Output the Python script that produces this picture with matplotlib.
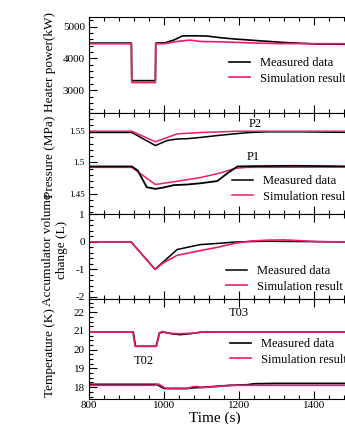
import matplotlib
matplotlib.use("Agg")
import matplotlib.pyplot as plt
from matplotlib.ticker import MultipleLocator, AutoMinorLocator

plt.rcParams["font.family"] = ["Liberation Serif", "DejaVu Serif"]
plt.rcParams["axes.unicode_minus"] = False

# heater power (kW)
t_hp_meas = [800, 913, 914, 977, 978, 1003, 1027, 1049, 1080, 1116, 1150, 1187, 1258, 1320, 1409, 1500]
hp_meas = [4480, 4480, 3300, 3300, 4480, 4490, 4580, 4705, 4710, 4700, 4650, 4610, 4550, 4500, 4450, 4440]
t_hp_sim = [800, 913, 914, 977, 978, 1000, 1040, 1070, 1085, 1100, 1150, 1200, 1250, 1300, 1500]
hp_sim = [4460, 4460, 3240, 3240, 4460, 4460, 4540, 4575, 4550, 4530, 4520, 4500, 4480, 4465, 4460]

# pressure (MPa)
t_p2_meas = [800, 914, 977, 1008, 1035, 1062, 1097, 1142, 1187, 1231, 1276, 1365, 1500]
p2_meas = [1.548, 1.548, 1.527, 1.535, 1.5375, 1.538, 1.540, 1.543, 1.5457, 1.548, 1.549, 1.549, 1.548]
t_p2_sim = [800, 914, 977, 1035, 1100, 1200, 1500]
p2_sim = [1.550, 1.550, 1.533, 1.5457, 1.548, 1.550, 1.550]
t_p1_meas = [800, 914, 930, 954, 977, 999, 1026, 1062, 1097, 1142, 1170, 1196, 1250, 1350, 1500]
p1_meas = [1.4935, 1.4935, 1.487, 1.4602, 1.4575, 1.4597, 1.4635, 1.4645, 1.4665, 1.4700, 1.4830, 1.4935, 1.4940, 1.4945, 1.4935]
t_p1_sim = [800, 914, 977, 1044, 1100, 1150, 1190, 1220, 1500]
p1_sim = [1.492, 1.492, 1.4645, 1.4705, 1.4760, 1.4830, 1.4905, 1.492, 1.4925]

# accumulator volume change (L)
t_v_meas = [800, 912, 976, 1035, 1097, 1142, 1187, 1232, 1276, 1365, 1454, 1500]
v_meas = [0.0, 0.0, -1.0, -0.28, -0.10, -0.06, -0.01, 0.01, 0.02, 0.01, 0.0, -0.01]
t_v_sim = [800, 912, 976, 1000, 1035, 1097, 1142, 1187, 1232, 1276, 1320, 1365, 1409, 1454, 1500]
v_sim = [0.0, 0.0, -1.0, -0.75, -0.49, -0.32, -0.20, -0.06, 0.03, 0.06, 0.07, 0.04, 0.01, 0.0, 0.0]

# temperature (K)
t_t03_meas = [800, 918, 924, 979, 988, 1000, 1020, 1043, 1070, 1097, 1150, 1500]
t03_meas = [20.95, 20.95, 20.18, 20.18, 20.90, 20.93, 20.85, 20.80, 20.85, 20.93, 20.95, 20.95]
t_t03_sim = [800, 917, 923, 980, 988, 995, 1010, 1040, 1080, 1110, 1500]
t03_sim = [20.95, 20.95, 20.18, 20.18, 20.90, 20.97, 20.88, 20.85, 20.88, 20.95, 20.95]
t_t02_meas = [800, 980, 990, 1000, 1060, 1080, 1110, 1143, 1180, 1223, 1240, 1300, 1500]
t02_meas = [18.15, 18.15, 18.05, 17.93, 17.93, 17.97, 18.00, 18.05, 18.10, 18.13, 18.18, 18.20, 18.20]
t_t02_sim = [800, 975, 985, 995, 1005, 1063, 1075, 1088, 1100, 1140, 1176, 1500]
t02_sim = [18.10, 18.10, 18.17, 18.05, 17.93, 17.93, 18.02, 18.04, 17.98, 18.03, 18.10, 18.10]

W, H = 345, 424
fig = plt.figure(figsize=(W / 100, H / 100), dpi=100)

black = "black"
pink = "#ee1c6e"


def px_axes(top, bottom, left=89, right=351.5):
    return fig.add_axes([left / W, 1 - bottom / H, (right - left) / W, (bottom - top) / H])


def style(ax, ysize=8):
    ax.set_xlim(800, 1500)
    ax.xaxis.set_major_locator(MultipleLocator(200))
    ax.xaxis.set_minor_locator(MultipleLocator(40))
    ax.yaxis.set_minor_locator(AutoMinorLocator(5))
    ax.tick_params(which="both", direction="in", top=True, right=False, width=0.8)
    ax.tick_params(which="major", length=6)
    ax.tick_params(which="minor", length=3)
    ax.tick_params(axis="y", labelsize=ysize, pad=3)
    ax.tick_params(axis="x", labelsize=8, pad=1.5)
    ax.spines["right"].set_visible(False)


def legend(ax, x, y):
    ax.legend(ax.lines[:2], ["Measured data", "Simulation result"], loc="upper left",
              bbox_to_anchor=(x / W, 1 - y / H), bbox_transform=fig.transFigure,
              frameon=False, fontsize=9, borderpad=0, borderaxespad=0,
              handlelength=1.7, handletextpad=0.8, labelspacing=0.3)


# heater power
ax1 = px_axes(17, 112.5)
ax1.plot(t_hp_meas, hp_meas, color=black, lw=1.2)
ax1.plot(t_hp_sim, hp_sim, color=pink, lw=1.2)
ax1.set_ylim(2300, 5300)
ax1.yaxis.set_major_locator(MultipleLocator(1000))
style(ax1)
ax1.tick_params(axis="x", labelbottom=False)
legend(ax1, 229, 57)

# pressure
ax2 = px_axes(112.5, 213.5)
ax2.plot(t_p2_meas, p2_meas, color=black, lw=1.1)
ax2.plot(t_p2_sim, p2_sim, color=pink, lw=1.1)
ax2.plot(t_p1_sim, p1_sim, color=pink, lw=1.1)
ax2.plot(t_p1_meas, p1_meas, color=black, lw=1.3)
ax2.set_ylim(1.418, 1.58)
ax2.set_yticks([1.45, 1.5, 1.55])
ax2.set_yticklabels(["1.45", "1.5", "1.55"])
style(ax2, ysize=6.5)
ax2.tick_params(axis="x", labelbottom=False)
ax2.text(1243, 1.562, "P2", fontsize=9, ha="center", va="center")
ax2.text(1237, 1.509, "P1", fontsize=9, ha="center", va="center")
legend(ax2, 232, 175)

# accumulator volume
ax3 = px_axes(213.5, 299)
ax3.plot(t_v_meas, v_meas, color=black, lw=1.1)
ax3.plot(t_v_sim, v_sim, color=pink, lw=1.2)
ax3.set_ylim(-2.08, 1.03)
ax3.yaxis.set_major_locator(MultipleLocator(1))
style(ax3)
ax3.tick_params(axis="x", labelbottom=False)
legend(ax3, 226, 265)

# temperature
ax4 = px_axes(299, 399)
ax4.plot(t_t03_meas, t03_meas, color=black, lw=1.2)
ax4.plot(t_t03_sim, t03_sim, color=pink, lw=1.2)
ax4.plot(t_t02_meas, t02_meas, color=black, lw=1.3)
ax4.plot(t_t02_sim, t02_sim, color=pink, lw=1.2)
ax4.set_ylim(17.37, 22.7)
ax4.yaxis.set_major_locator(MultipleLocator(1))
style(ax4)
ax4.yaxis.set_minor_locator(AutoMinorLocator(4))
ax4.text(1200, 21.98, "T03", fontsize=9, ha="center", va="center")
ax4.text(947, 19.38, "T02", fontsize=9, ha="center", va="center")
legend(ax4, 230, 338)

# axis labels
fig.text(50 / W, 1 - 62 / H, "Heater power(kW)", rotation=90, fontsize=9.5, ha="center", va="center")
fig.text(50 / W, 1 - 157 / H, "Pressure (MPa)", rotation=90, fontsize=9.5, ha="center", va="center")
fig.text(55 / W, 1 - 250 / H, "Accumulator volume\nchange (L)", rotation=90, fontsize=9.5,
         ha="center", va="center", multialignment="center", linespacing=1.2)
fig.text(50 / W, 1 - 353 / H, "Temperature (K)", rotation=90, fontsize=9.5, ha="center", va="center")
fig.text(215 / W, 1 - 418 / H, "Time (s)", fontsize=11, ha="center", va="center")

fig.savefig("out.png", dpi=100)
